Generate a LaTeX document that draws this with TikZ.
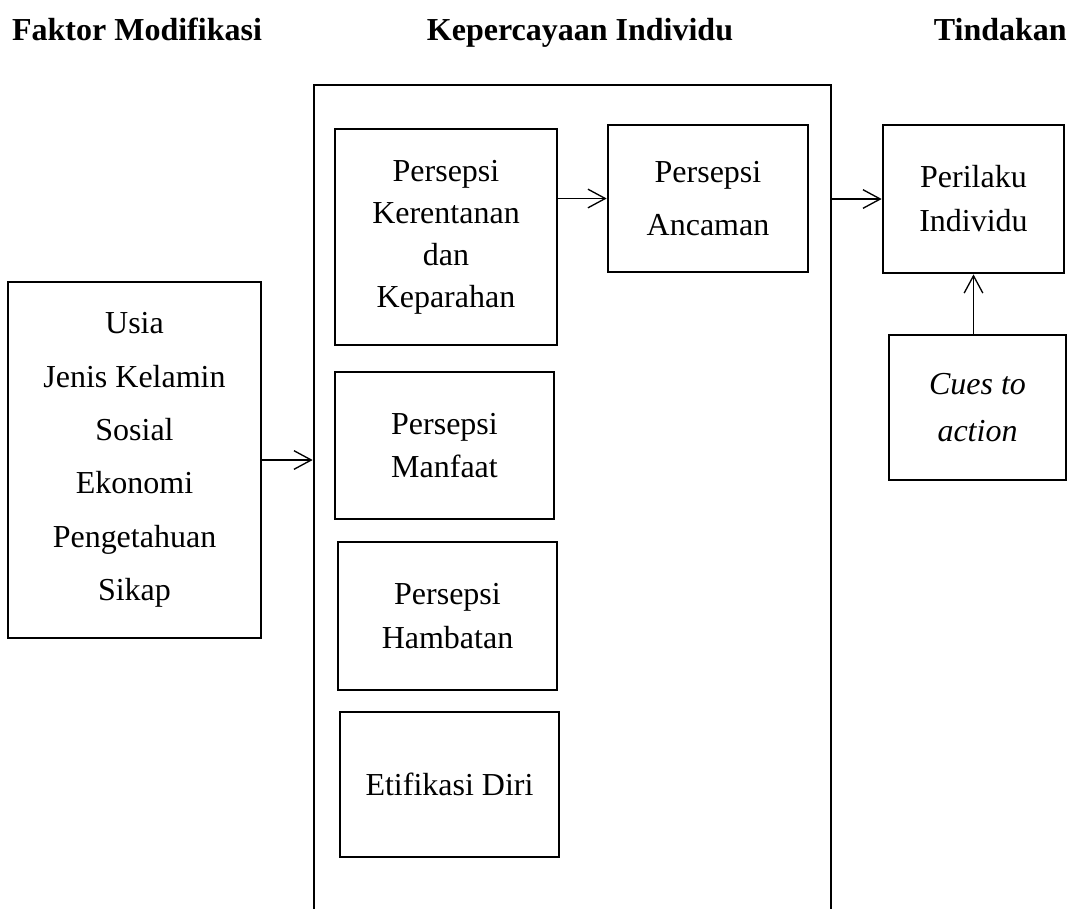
\documentclass[tikz,border=0pt]{standalone}
\usepackage{fontspec}
\setmainfont{Liberation Serif}
\usetikzlibrary{arrows.meta}
\tikzset{
  box/.style={draw=black, line width=2pt, rectangle, inner sep=0pt, align=center},
  conn/.style={line width=1pt, -{Straight Barb[length=13pt,width=14pt,line width=1pt]}},
  ttl/.style={font=\fontsize{24}{29}\selectfont\bfseries, anchor=base, inner sep=0pt},
}
\begin{document}
\begin{tikzpicture}[x=0.75pt,y=-0.75pt]
\useasboundingbox (0,0) rectangle (1068,908);
% titles
\node[ttl] (t1) at (137,40) {Faktor Modifikasi};
\node[ttl] (t2) at (580,40) {Kepercayaan Individu};
\node[ttl, anchor=base east] (t3) at (1067,40) {Tindakan};
% big container (open at bottom, runs off the page)
\node[box, minimum width=387.75pt, minimum height=686.25pt] (big) at (572.5,542.5) {};
% left box
\node[box, minimum width=189.75pt, minimum height=267pt, font=\fontsize{24}{40}\selectfont] (left) at (134.5,460)
  {Usia\\Jenis Kelamin\\Sosial\\Ekonomi\\Pengetahuan\\Sikap};
% inner boxes
\node[box, minimum width=166.5pt, minimum height=162pt, font=\fontsize{24}{31.5}\selectfont] (ker) at (446,237)
  {Persepsi\\Kerentanan\\dan\\Keparahan};
\node[box, minimum width=150pt, minimum height=110.25pt, font=\fontsize{24}{40}\selectfont] (anc) at (708,198.5)
  {Persepsi\\Ancaman};
\node[box, minimum width=164.25pt, minimum height=110.25pt, font=\fontsize{24}{32.5}\selectfont] (man) at (444.5,445.5)
  {Persepsi\\Manfaat};
\node[box, minimum width=164.25pt, minimum height=111pt, font=\fontsize{24}{32.5}\selectfont] (ham) at (447.5,616)
  {Persepsi\\Hambatan};
\node[box, minimum width=164.25pt, minimum height=108.75pt, font=\fontsize{24}{29}\selectfont] (eti) at (449.5,784.5)
  {Etifikasi Diri};
% right boxes
\node[box, minimum width=135.75pt, minimum height=111pt, font=\fontsize{24}{33}\selectfont] (per) at (973.5,199)
  {Perilaku\\Individu};
\node[box, minimum width=132.75pt, minimum height=108.75pt, font=\fontsize{24}{35}\selectfont\itshape] (cues) at (977.5,407.5)
  {Cues to\\action};
% connectors
\draw[conn] (left.east) -- (left.east -| big.west);
\draw[conn] (anc.west -| ker.east) -- (anc.west);
\draw[conn] (per.west -| big.east) -- (per.west);
\draw[conn] (per.south |- cues.north) -- (per.south);
\end{tikzpicture}
\end{document}
